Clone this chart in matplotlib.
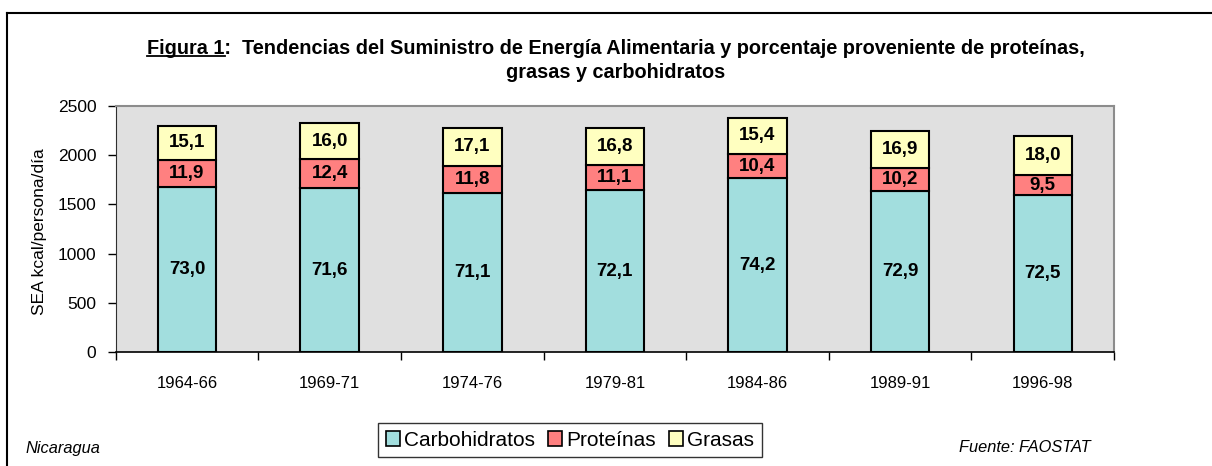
import numpy as np
import matplotlib
matplotlib.use("Agg")
import matplotlib.pyplot as plt
from matplotlib.lines import Line2D
from matplotlib.patches import Patch

# data
periods = ["1964-66", "1969-71", "1974-76", "1979-81", "1984-86", "1989-91", "1996-98"]
total_kcal = [2297, 2328, 2277, 2277, 2378, 2243, 2193]   # SEA kcal/persona/dia
pct_carb = [73.0, 71.6, 71.1, 72.1, 74.2, 72.9, 72.5]
pct_prot = [11.9, 12.4, 11.8, 11.1, 10.4, 10.2, 9.5]
pct_fat = [15.1, 16.0, 17.1, 16.8, 15.4, 16.9, 18.0]

series_names = ["Carbohidratos", "Proteínas", "Grasas"]
colors = ["#A2DEDE", "#FF8080", "#FFFFC0"]

plt.rcParams["font.family"] = ["Liberation Sans", "DejaVu Sans"]

fig = plt.figure(figsize=(12.12, 4.66), dpi=100)
ax = fig.add_axes([0.0955, 0.244, 0.8237, 0.5292])
ax.set_facecolor("#E0E0E0")

x = np.arange(len(periods))
tot = np.array(total_kcal, dtype=float)
pcts = [np.array(pct_carb), np.array(pct_prot), np.array(pct_fat)]

bottom = np.zeros(len(x))
for name, p, c in zip(series_names, pcts, colors):
    h = tot * p / 100.0
    ax.bar(x, h, 0.41, bottom=bottom, color=c, edgecolor="black", linewidth=1.5, zorder=3)
    for xi, b, hi, v in zip(x, bottom, h, p):
        ax.text(xi, b + hi / 2, f"{v:.1f}".replace(".", ","), ha="center", va="center",
                fontsize=13.5, fontweight="bold", zorder=4)
    bottom += h

ax.set_xlim(-0.5, len(x) - 0.5)
ax.set_ylim(0, 2500)
ax.set_yticks(np.arange(0, 2501, 500))
ax.tick_params(axis="y", direction="out", length=6, width=1, pad=8, labelsize=12.5)

# boundaries as major ticks, labels at centers
ax.set_xticks(np.arange(-0.5, len(x), 1.0))
ax.set_xticklabels([])
ax.tick_params(axis="x", which="major", direction="out", length=6, width=1)
ax.set_xticks(x, minor=True)
ax.set_xticklabels(periods, minor=True)
ax.tick_params(axis="x", which="minor", length=0, pad=17, labelsize=12)

for s in ["top", "right"]:
    ax.spines[s].set_color("#8C8C8C")
    ax.spines[s].set_linewidth(1.5)
ax.spines["left"].set_color("#303030")
ax.spines["bottom"].set_color("black")
ax.spines["bottom"].set_linewidth(1.2)

fig.text(40 / 1212, 1 - 232 / 466, "SEA kcal/persona/día", rotation=90,
         ha="center", va="center", fontsize=12.5)

# title
tsize = 14.3
t1 = fig.text(616 / 1212, 1 - 48 / 466,
              "Figura 1:  Tendencias del Suministro de Energía Alimentaria y porcentaje proveniente de proteínas,",
              ha="center", va="center", fontsize=tsize, fontweight="bold")
fig.text(616 / 1212, 1 - 72 / 466, "grasas y carbohidratos",
         ha="center", va="center", fontsize=tsize, fontweight="bold")

fig.canvas.draw()
r = fig.canvas.get_renderer()
bb = t1.get_window_extent(r)
tmp = fig.text(0, 0, "Figura 1", fontsize=tsize, fontweight="bold")
w = tmp.get_window_extent(r).width
tmp.remove()
inv = fig.transFigure.inverted()
(ux0, uy), (ux1, _) = inv.transform([(bb.x0, bb.y0 + 2), (bb.x0 + w, bb.y0 + 2)])
fig.add_artist(Line2D([ux0, ux1], [uy, uy], color="black", linewidth=1.3))

# legend
handles = [Patch(facecolor=c, edgecolor="black", linewidth=1.2) for c in colors]
leg = fig.legend(handles, series_names, loc="center", bbox_to_anchor=(570 / 1212, 1 - 440 / 466),
                 ncol=3, fontsize=15, frameon=True, fancybox=False, handlelength=0.7,
                 handleheight=0.7, handletextpad=0.2, columnspacing=0.6, borderpad=0.35)
leg.get_frame().set_edgecolor("black")
leg.get_frame().set_linewidth(1.0)

fig.text(26 / 1212, 1 - 449 / 466, "Nicaragua", ha="left", va="center", fontsize=11.8, style="italic")
fig.text(1091 / 1212, 1 - 447 / 466, "Fuente: FAOSTAT", ha="right", va="center", fontsize=11.8, style="italic")

# outer frame (top and left visible)
fig.add_artist(Line2D([7 / 1212, 1], [1 - 13 / 466, 1 - 13 / 466], color="black", linewidth=1.5))
fig.add_artist(Line2D([7 / 1212, 7 / 1212], [0, 1 - 13 / 466], color="black", linewidth=1.5))

fig.savefig("out.png", dpi=100)
